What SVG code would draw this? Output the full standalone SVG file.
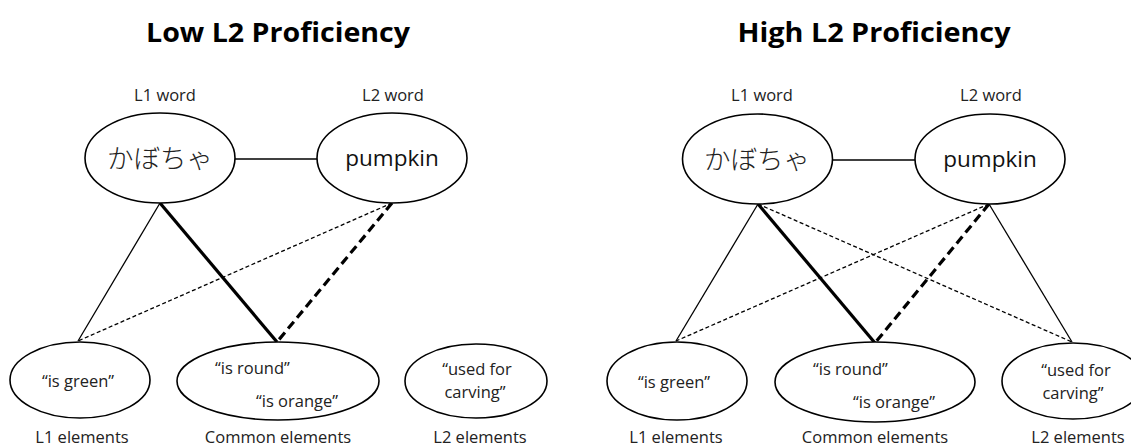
<svg xmlns="http://www.w3.org/2000/svg" width="1131" height="446" viewBox="0 0 1131 446">
<style>
  .title{font-family:"Open Sans","Liberation Sans",sans-serif;font-weight:bold;font-size:26px;text-anchor:middle;fill:#000}
  .lbl{font-family:"Open Sans","Liberation Sans",sans-serif;font-size:16.5px;text-anchor:middle;fill:#222}
  .txt{font-family:"Open Sans","Liberation Sans",sans-serif;font-size:16.5px;fill:#222}
  .mid{text-anchor:middle}
  .jp{font-family:"Noto Sans CJK JP",sans-serif;font-weight:300;font-size:26.5px;text-anchor:middle;fill:#222}
  .pk{font-family:"Open Sans","Liberation Sans",sans-serif;font-size:22.5px;text-anchor:middle;fill:#111}
  ellipse{fill:#fff;stroke:#000;stroke-width:1.6}
  .thin{stroke:#000;stroke-width:1.3;fill:none}
  .thick{stroke:#000;stroke-width:3.2;fill:none}
  .dash{stroke:#000;stroke-width:1.3;stroke-dasharray:4 2.5;fill:none}
  .tdash{stroke:#000;stroke-width:3.2;stroke-dasharray:9 5;fill:none}
</style>

<text class="title" x="278" y="42" textLength="264" lengthAdjust="spacingAndGlyphs">Low L2 Proficiency</text>
<text class="title" x="874" y="42" textLength="273" lengthAdjust="spacingAndGlyphs">High L2 Proficiency</text>

<g id="connectors">
  <line class="thin" x1="235" y1="159" x2="317" y2="159"/>
  <line class="thin" x1="160" y1="203" x2="78" y2="341"/>
  <line class="thick" x1="160" y1="203" x2="277" y2="342"/>
  <line class="dash" x1="392" y1="203" x2="78" y2="341"/>
  <line class="tdash" x1="392" y1="203" x2="277" y2="342"/>

  <line class="thin" x1="832" y1="160" x2="915" y2="160"/>
  <line class="thin" x1="758" y1="204" x2="676" y2="341"/>
  <line class="thick" x1="758" y1="204" x2="875" y2="343"/>
  <line class="dash" x1="758" y1="204" x2="1072" y2="342"/>
  <line class="dash" x1="989" y1="204" x2="676" y2="341"/>
  <line class="tdash" x1="989" y1="204" x2="875" y2="343"/>
  <line class="thin" x1="989" y1="204" x2="1072" y2="342"/>
</g>

<g id="low-l1-word">
  <text class="lbl" x="165" y="101">L1 word</text>
  <ellipse cx="160" cy="158" rx="75" ry="45"/>
  <text class="jp" x="160" y="168">かぼちゃ</text>
</g>
<g id="low-l2-word">
  <text class="lbl" x="393" y="101">L2 word</text>
  <ellipse cx="392" cy="158" rx="75" ry="45"/>
  <text class="pk" x="392" y="166">pumpkin</text>
</g>
<g id="low-l1-elements">
  <ellipse cx="80" cy="380" rx="70" ry="38"/>
  <text class="txt mid" x="78" y="387">“is green”</text>
  <text class="txt mid" x="82" y="443">L1 elements</text>
</g>
<g id="low-common-elements">
  <ellipse cx="278" cy="381" rx="101" ry="39"/>
  <text class="txt" x="215" y="374">“is round”</text>
  <text class="txt" x="256" y="407">“is orange”</text>
  <text class="txt mid" x="278" y="443">Common elements</text>
</g>
<g id="low-l2-elements">
  <ellipse cx="476" cy="381" rx="71" ry="37"/>
  <text class="txt mid" x="477" y="375">“used for</text>
  <text class="txt mid" x="475" y="398">carving”</text>
  <text class="txt mid" x="480" y="443">L2 elements</text>
</g>

<g id="high-l1-word">
  <text class="lbl" x="762" y="101">L1 word</text>
  <ellipse cx="757.5" cy="159" rx="75" ry="45"/>
  <text class="jp" x="757" y="169">かぼちゃ</text>
</g>
<g id="high-l2-word">
  <text class="lbl" x="991" y="101">L2 word</text>
  <ellipse cx="990" cy="159" rx="75" ry="45"/>
  <text class="pk" x="990" y="167">pumpkin</text>
</g>
<g id="high-l1-elements">
  <ellipse cx="677" cy="381" rx="70" ry="39"/>
  <text class="txt mid" x="674" y="388">“is green”</text>
  <text class="txt mid" x="676" y="443">L1 elements</text>
</g>
<g id="high-common-elements">
  <ellipse cx="875" cy="382" rx="100" ry="40"/>
  <text class="txt" x="813" y="375">“is round”</text>
  <text class="txt" x="853" y="408">“is orange”</text>
  <text class="txt mid" x="875" y="443">Common elements</text>
</g>
<g id="high-l2-elements">
  <ellipse cx="1073" cy="381" rx="71" ry="38"/>
  <text class="txt mid" x="1076" y="376">“used for</text>
  <text class="txt mid" x="1073" y="399">carving”</text>
  <text class="txt mid" x="1078" y="443">L2 elements</text>
</g>
</svg>
